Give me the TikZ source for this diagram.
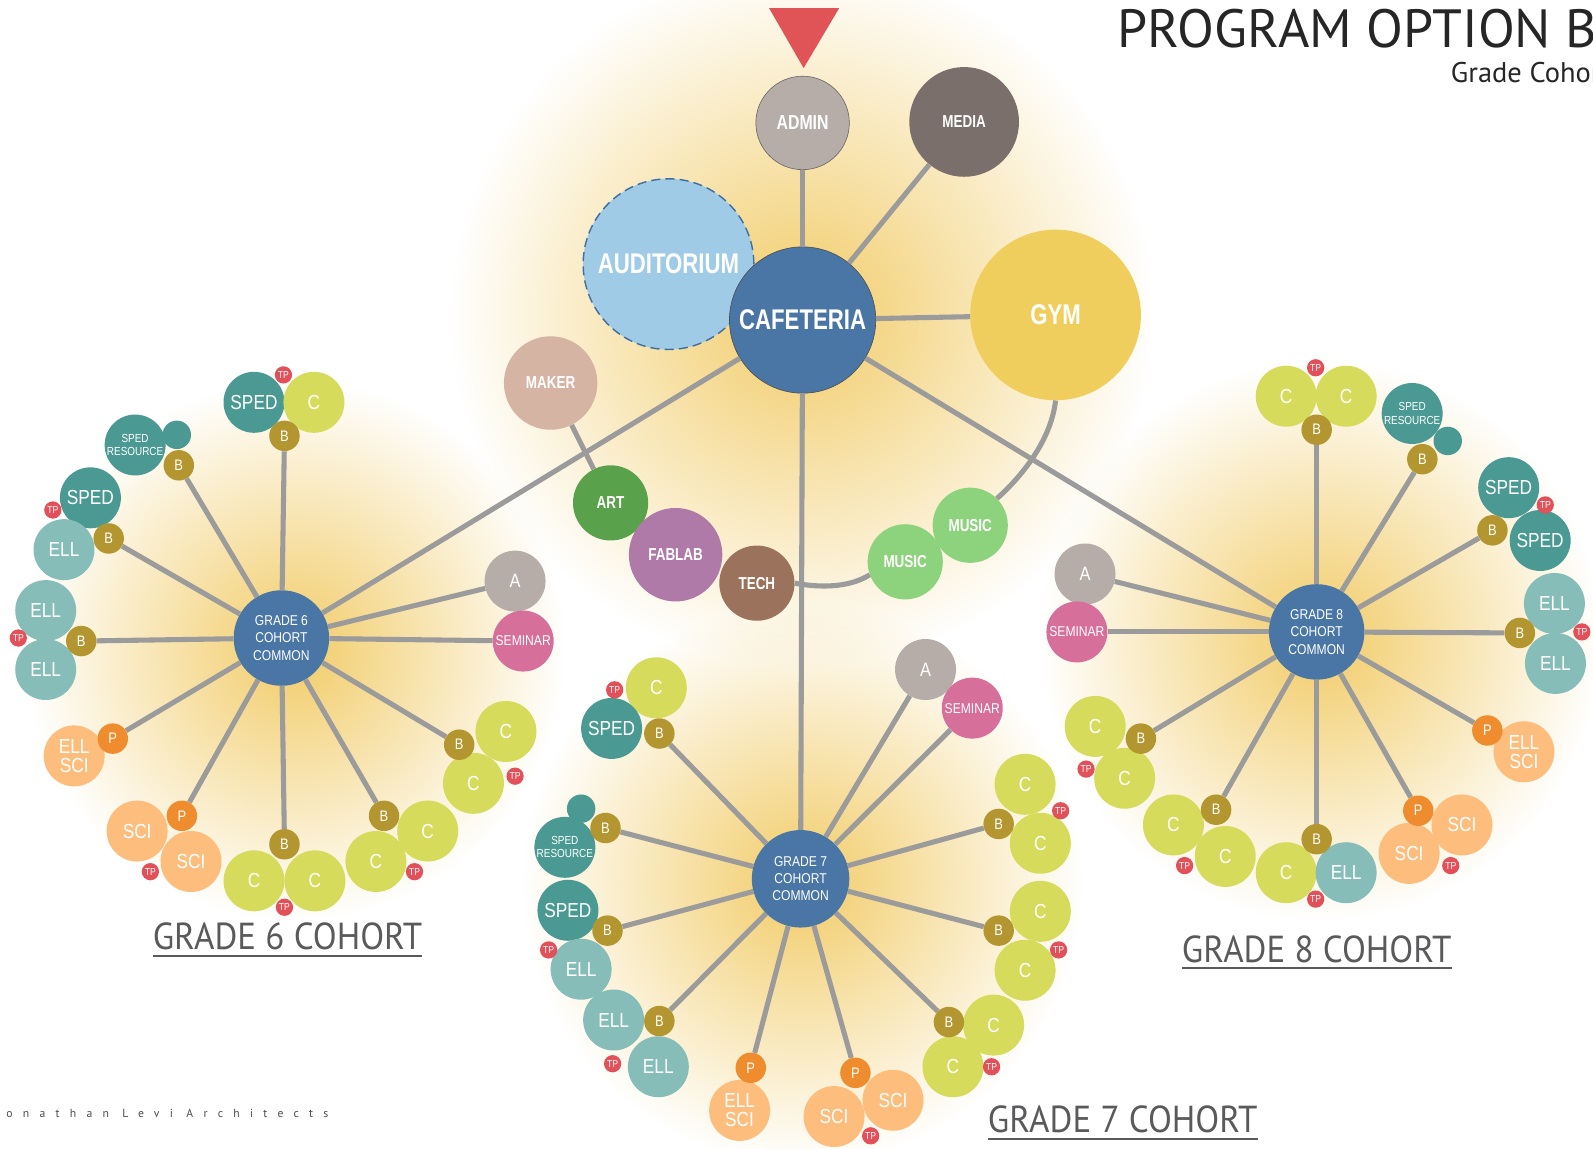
\documentclass[tikz,border=0pt]{standalone}
\usepackage{fontspec}
\usepackage{tikz}
\usetikzlibrary{fadings}

\newfontfamily\narrow[FakeStretch=0.85]{Liberation Sans}
\newfontfamily\narrowbf[FakeStretch=0.78]{Liberation Sans}
\newfontfamily\headfont{PT Sans}
\newfontfamily\cohortfont[FakeStretch=0.93]{PT Sans}

\definecolor{linec}{HTML}{9B9B9B}
\definecolor{cafec}{HTML}{4A76A6}
\definecolor{audic}{HTML}{9FCBE6}
\definecolor{audiline}{HTML}{3F6FA0}
\definecolor{adminc}{HTML}{B6ADA9}
\definecolor{mediac}{HTML}{7B6F6C}
\definecolor{gymc}{HTML}{F0CE5E}
\definecolor{makerc}{HTML}{D6B4A4}
\definecolor{artc}{HTML}{59A14B}
\definecolor{fabc}{HTML}{AF7AA7}
\definecolor{techc}{HTML}{9B725B}
\definecolor{musicc}{HTML}{8DD27C}
\definecolor{spedc}{HTML}{4A9A93}
\definecolor{ellc}{HTML}{86BDB8}
\definecolor{clsc}{HTML}{D6DB5B}
\definecolor{scic}{HTML}{FDBD7D}
\definecolor{bc}{HTML}{B3962F}
\definecolor{pc}{HTML}{EF8C2D}
\definecolor{tpc}{HTML}{E2505A}
\definecolor{semc}{HTML}{D66F9A}
\definecolor{glowc}{HTML}{F2CC68}
\definecolor{arrowc}{HTML}{E05357}
\definecolor{labc}{HTML}{5A5A5C}

\tikzfading[name=glowfade, inner color=transparent!0, outer color=transparent!100]

\begin{document}
\begin{tikzpicture}[x=1pt,y=-1pt,
  every node/.style={circle,inner sep=0pt,text=white,align=center},
  hub/.style={fill=cafec,minimum size=94pt,font=\narrow\fontsize{14}{17}\selectfont},
  room/.style={minimum size=60pt,font=\narrow\fontsize{20}{19}\selectfont},
  sped/.style={room,fill=spedc},
  ell/.style={room,fill=ellc},
  cls/.style={room,fill=clsc},
  sci/.style={room,fill=scic},
  res/.style={room,fill=spedc,font=\narrow\fontsize{11.5}{13}\selectfont},
  blob/.style={fill=spedc,minimum size=28pt},
  bnode/.style={fill=bc,minimum size=30pt,font=\narrow\fontsize{15}{15}\selectfont},
  pnode/.style={bnode,fill=pc},
  tp/.style={fill=tpc,minimum size=17pt,font=\narrow\fontsize{10}{10}\selectfont},
  anode/.style={room,fill=adminc,font=\narrow\fontsize{19}{19}\selectfont},
  sem/.style={room,fill=semc,font=\narrow\fontsize{14}{14}\selectfont},
  hall/.style={font=\narrowbf\bfseries\fontsize{17}{17}\selectfont},
  bighall/.style={font=\narrowbf\bfseries\fontsize{28}{28}\selectfont},
  link/.style={draw=linec,line width=5pt},
  glow/.style={fill=glowc,path fading=glowfade},
  cohort/.style={rectangle,text=labc,font=\cohortfont\fontsize{37}{37}\selectfont}
]
\useasboundingbox (0,0) rectangle (1568,1130);
\fill[white] (0,0) rectangle (1568,1130);

% glows
\fill[glow] (790,310) circle (345);
\fill[glow] (290,640) circle (265);
\fill[glow] (790,870) circle (275);
\fill[glow] (1300,630) circle (275);

% title
\node[rectangle,anchor=base west,text=black!85,font=\headfont\fontsize{53}{53}\selectfont] (title) at (1100,47) {PROGRAM OPTION B};
\node[rectangle,anchor=base west,text=black!85,font=\headfont\fontsize{28}{28}\selectfont] (subtitle) at (1428,81) {Grade Cohort};
\fill[arrowc] (757,8) -- (826,8) -- (791,67) -- cycle;

% shared spaces
\node[fill=adminc,draw=black!60,line width=0.6pt,minimum size=92pt,font=\narrowbf\bfseries\fontsize{20}{20}\selectfont] (admin) at (790,121) {ADMIN};
\node[hall,fill=mediac,minimum size=108pt] (media) at (949,120) {MEDIA};
\node[bighall,fill=audic,draw=audiline,dash pattern=on 9pt off 5pt,line width=1.4pt,minimum size=168pt] (audi) at (658,260) {AUDITORIUM};
\node[bighall,fill=cafec,draw=black!70,line width=0.6pt,minimum size=144pt] (cafe) at (790,315) {CAFETERIA};
\node[bighall,fill=gymc,minimum size=168pt] (gym) at (1039,310) {GYM};
\node[hall,fill=makerc,minimum size=92pt] (maker) at (542,377) {MAKER};
\node[hall,fill=artc,minimum size=74pt] (art) at (601,495) {ART};
\node[hall,fill=fabc,minimum size=92pt] (fab) at (665,546) {FABLAB};
\node[hall,fill=techc,minimum size=74pt] (tech) at (745,574) {TECH};
\node[hall,fill=musicc,minimum size=74pt] (mus1) at (955,517) {MUSIC};
\node[hall,fill=musicc,minimum size=74pt] (mus2) at (891,553) {MUSIC};

% grade 6
\node[hub] (g6) at (277,628) {GRADE 6\\COHORT\\COMMON};
\node[sped] (g6s1) at (250,396) {SPED};
\node[cls] (g6c1) at (309,396) {C};
\node[bnode] (g6b1) at (280,429) {B};
\node[tp] (g6t1) at (279,369) {TP};
\node[blob] (g6d2) at (174,428) {};
\node[res] (g6r2) at (133,438) {SPED\\RESOURCE};
\node[bnode] (g6b2) at (176,458) {B};
\node[sped] (g6s3) at (89,490) {SPED};
\node[ell] (g6e3) at (63,541) {ELL};
\node[bnode] (g6b3) at (107,530) {B};
\node[tp] (g6t3) at (52,502) {TP};
\node[ell] (g6e4) at (45,601) {ELL};
\node[ell] (g6f4) at (45,659) {ELL};
\node[bnode] (g6b4) at (80,631) {B};
\node[tp] (g6t4) at (18,628) {TP};
\node[sci] (g6x5) at (73,744) {ELL\\SCI};
\node[pnode] (g6p5) at (111,727) {P};
\node[sci] (g6x6) at (135,818) {SCI};
\node[sci] (g6y6) at (188,848) {SCI};
\node[pnode] (g6p6) at (179,803) {P};
\node[tp] (g6t6) at (148,858) {TP};
\node[cls] (g6c7) at (250,867) {C};
\node[cls] (g6d7) at (310,867) {C};
\node[bnode] (g6b7) at (280,831) {B};
\node[tp] (g6t7) at (280,893) {TP};
\node[cls] (g6c8) at (370,848) {C};
\node[cls] (g6d8) at (421,818) {C};
\node[bnode] (g6b8) at (378,803) {B};
\node[tp] (g6t8) at (408,858) {TP};
\node[cls] (g6c9) at (498,720) {C};
\node[cls] (g6d9) at (466,771) {C};
\node[bnode] (g6b9) at (452,733) {B};
\node[tp] (g6t9) at (507,764) {TP};
\node[anode] (g6a) at (507,572) {A};
\node[sem] (g6sem) at (515,631) {SEMINAR};

% grade 7
\node[hub,minimum size=96pt] (g7) at (788,865) {GRADE 7\\COHORT\\COMMON};
\node[anode] (g7a) at (911,659) {A};
\node[sem] (g7sem) at (957,697) {SEMINAR};
\node[cls] (g7c1) at (646,677) {C};
\node[sped] (g7s1) at (602,717) {SPED};
\node[bnode] (g7b1) at (649,722) {B};
\node[tp] (g7t1) at (605,679) {TP};
\node[blob] (g7d2) at (572,796) {};
\node[res] (g7r2) at (556,834) {SPED\\RESOURCE};
\node[bnode] (g7b2) at (596,815) {B};
\node[sped] (g7s3) at (559,896) {SPED};
\node[ell] (g7e3) at (572,954) {ELL};
\node[bnode] (g7b3) at (598,916) {B};
\node[tp] (g7t3) at (540,935) {TP};
\node[ell] (g7e4) at (604,1004) {ELL};
\node[ell] (g7f4) at (648,1050) {ELL};
\node[bnode] (g7b4) at (649,1005) {B};
\node[tp] (g7t4) at (603,1047) {TP};
\node[sci] (g7x5) at (728,1093) {ELL\\SCI};
\node[pnode] (g7p5) at (739,1051) {P};
\node[sci] (g7x6) at (821,1099) {SCI};
\node[sci] (g7y6) at (879,1083) {SCI};
\node[pnode] (g7p6) at (842,1056) {P};
\node[tp] (g7t6) at (857,1118) {TP};
\node[cls] (g7c7) at (978,1009) {C};
\node[cls] (g7d7) at (938,1050) {C};
\node[bnode] (g7b7) at (934,1006) {B};
\node[tp] (g7t7) at (976,1050) {TP};
\node[cls] (g7c8) at (1024,897) {C};
\node[cls] (g7d8) at (1009,955) {C};
\node[bnode] (g7b8) at (983,916) {B};
\node[tp] (g7t8) at (1042,935) {TP};
\node[cls] (g7c9) at (1009,772) {C};
\node[cls] (g7d9) at (1024,830) {C};
\node[bnode] (g7b9) at (983,811) {B};
\node[tp] (g7t9) at (1044,798) {TP};

% grade 8
\node[hub] (g8) at (1296,622) {GRADE 8\\COHORT\\COMMON};
\node[anode] (g8a) at (1068,565) {A};
\node[sem] (g8sem) at (1060,622) {SEMINAR};
\node[cls] (g8c1) at (1266,390) {C};
\node[cls] (g8d1) at (1325,390) {C};
\node[bnode] (g8b1) at (1296,423) {B};
\node[tp] (g8t1) at (1295,362) {TP};
\node[blob] (g8d2) at (1425,434) {};
\node[res] (g8r2) at (1390,407) {SPED\\RESOURCE};
\node[bnode] (g8b2) at (1400,452) {B};
\node[sped] (g8s3) at (1485,480) {SPED};
\node[sped] (g8u3) at (1516,532) {SPED};
\node[bnode] (g8b3) at (1469,522) {B};
\node[tp] (g8t3) at (1521,497) {TP};
\node[ell] (g8e4) at (1530,594) {ELL};
\node[ell] (g8f4) at (1531,653) {ELL};
\node[bnode] (g8b4) at (1496,623) {B};
\node[tp] (g8t4) at (1557,622) {TP};
\node[sci] (g8x5) at (1500,740) {ELL\\SCI};
\node[pnode] (g8p5) at (1464,719) {P};
\node[sci] (g8x6) at (1439,812) {SCI};
\node[sci] (g8y6) at (1387,840) {SCI};
\node[pnode] (g8p6) at (1396,798) {P};
\node[tp] (g8t6) at (1428,852) {TP};
\node[cls] (g8c7) at (1266,859) {C};
\node[ell] (g8e7) at (1325,859) {ELL};
\node[bnode] (g8b7) at (1296,826) {B};
\node[tp] (g8t7) at (1295,885) {TP};
\node[cls] (g8c8) at (1155,812) {C};
\node[cls] (g8d8) at (1206,843) {C};
\node[bnode] (g8b8) at (1197,797) {B};
\node[tp] (g8t8) at (1166,852) {TP};
\node[cls] (g8c9) at (1078,715) {C};
\node[cls] (g8d9) at (1107,766) {C};
\node[bnode] (g8b9) at (1123,727) {B};
\node[tp] (g8t9) at (1069,757) {TP};

% cohort names
\node[cohort] (g6lab) at (283,922) {GRADE 6 COHORT};
\node[cohort] (g7lab) at (1105,1102) {GRADE 7 COHORT};
\node[cohort] (g8lab) at (1296,934) {GRADE 8 COHORT};
\draw[labc,line width=2pt] ([yshift=-6pt]g6lab.base west) -- ([yshift=-6pt]g6lab.base east);
\draw[labc,line width=2pt] ([yshift=-6pt]g7lab.base west) -- ([yshift=-6pt]g7lab.base east);
\draw[labc,line width=2pt] ([yshift=-6pt]g8lab.base west) -- ([yshift=-6pt]g8lab.base east);
\node[rectangle,anchor=west,text=black!70,font=\headfont\fontsize{11.5}{11.5}\selectfont\addfontfeature{LetterSpace=88}] (firm) at (6,1096) {onathan Levi Architects};

% links
\draw[link] (admin) -- (cafe);
\draw[link] (media) -- (cafe);
\draw[link] (gym) -- (cafe);
\draw[link] (cafe) -- (g6);
\draw[link] (cafe) -- (g7);
\draw[link] (cafe) -- (g8);
\draw[link] (maker) -- (art);
\draw[link] (gym.south) .. controls (1035,430) and (1010,465) .. (mus1.45);
\draw[link] (tech.east) .. controls (815,580) and (840,576) .. (mus2.200);

\draw[link] (g6) -- (g6b1);
\draw[link] (g6) -- (g6b2);
\draw[link] (g6) -- (g6b3);
\draw[link] (g6) -- (g6b4);
\draw[link] (g6) -- (g6p5);
\draw[link] (g6) -- (g6p6);
\draw[link] (g6) -- (g6b7);
\draw[link] (g6) -- (g6b8);
\draw[link] (g6) -- (g6b9);
\draw[link] (g6) -- (g6a);
\draw[link] (g6) -- (g6sem);

\draw[link] (g7) -- (g7a);
\draw[link] (g7) -- (g7sem);
\draw[link] (g7) -- (g7b1);
\draw[link] (g7) -- (g7b2);
\draw[link] (g7) -- (g7b3);
\draw[link] (g7) -- (g7b4);
\draw[link] (g7) -- (g7p5);
\draw[link] (g7) -- (g7p6);
\draw[link] (g7) -- (g7b7);
\draw[link] (g7) -- (g7b8);
\draw[link] (g7) -- (g7b9);

\draw[link] (g8) -- (g8a);
\draw[link] (g8) -- (g8sem);
\draw[link] (g8) -- (g8b1);
\draw[link] (g8) -- (g8b2);
\draw[link] (g8) -- (g8b3);
\draw[link] (g8) -- (g8b4);
\draw[link] (g8) -- (g8p5);
\draw[link] (g8) -- (g8p6);
\draw[link] (g8) -- (g8b7);
\draw[link] (g8) -- (g8b8);
\draw[link] (g8) -- (g8b9);
\end{tikzpicture}
\end{document}
